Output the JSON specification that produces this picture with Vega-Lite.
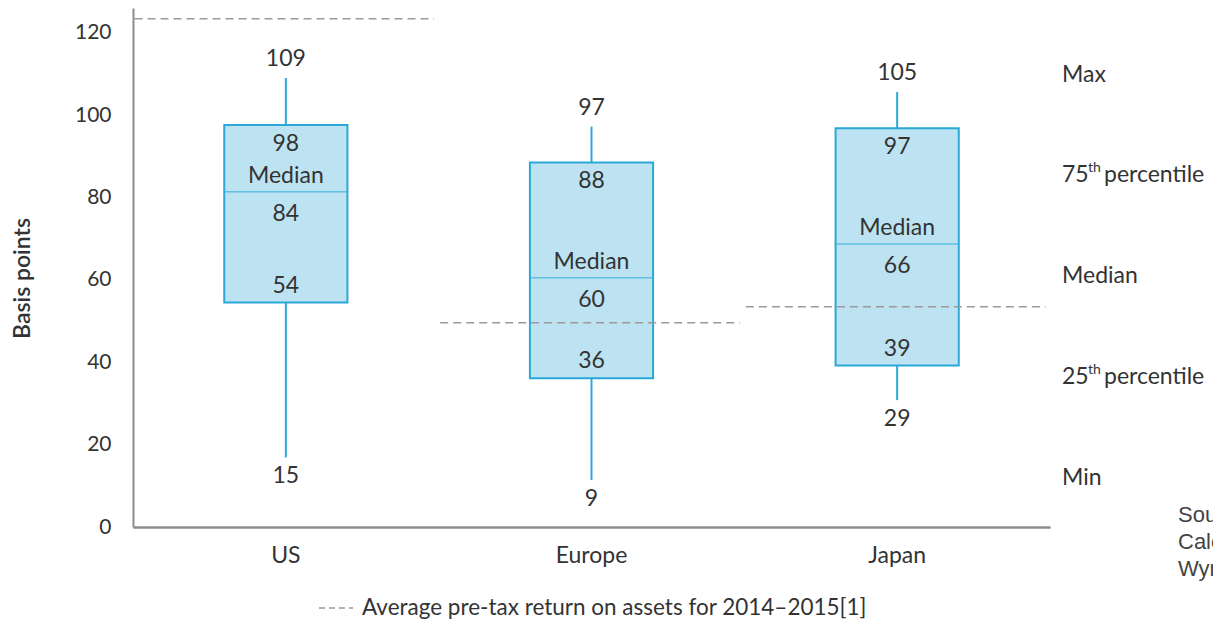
{
  "$schema": "https://vega.github.io/schema/vega-lite/v6.json",
  "autosize": {"type": "none"},
  "width": 917,
  "height": 519,
  "padding": {"left": 133, "top": 8, "right": 163, "bottom": 93},
  "background": "white",
  "config": {
    "view": {"stroke": null},
    "font": "Lato",
    "text": {"font": "Lato", "color": "#333333"}
  },
  "datasets": {
    "stats": [
      {"region": "US", "min": 16.9, "q1": 54.5, "median": 81.4, "q3": 97.6, "max": 109, "avg": 123.4, "lmin": "15", "lq1": "54", "lmed": "84", "lq3": "98", "lmax": "109"},
      {"region": "Europe", "min": 11.4, "q1": 36.1, "median": 60.5, "q3": 88.5, "max": 97.2, "avg": 49.6, "lmin": "9", "lq1": "36", "lmed": "60", "lq3": "88", "lmax": "97"},
      {"region": "Japan", "min": 30.8, "q1": 39.2, "median": 68.7, "q3": 96.8, "max": 105.6, "avg": 53.5, "lmin": "29", "lq1": "39", "lmed": "66", "lq3": "97", "lmax": "105"}
    ],
    "notes": [
      {"t": "Max", "sup": "", "rest": "", "v": 109.7},
      {"t": "75", "sup": "th", "rest": "percentile", "v": 85.5},
      {"t": "Median", "sup": "", "rest": "", "v": 61},
      {"t": "25", "sup": "th", "rest": "percentile", "v": 36.4},
      {"t": "Min", "sup": "", "rest": "", "v": 11.9}
    ],
    "source": [
      {"t": "Source: Oliver Wyman analysis\nCalculations based on company reports\nWyman"}
    ]
  },
  "data": {"name": "stats"},
  "encoding": {
    "x": {
      "field": "region",
      "type": "nominal",
      "sort": ["US", "Europe", "Japan"],
      "scale": {"paddingInner": 0, "paddingOuter": 0},
      "axis": {
        "title": null,
        "labelAngle": 0,
        "labelFontSize": 23,
        "labelColor": "#333333",
        "labelFont": "Lato",
        "labelPadding": 17,
        "ticks": false,
        "domainColor": "#8c8c8c",
        "domainWidth": 2.5
      }
    }
  },
  "layer": [
    {
      "mark": {"type": "rule", "color": "#2aa8d8", "strokeWidth": 2},
      "encoding": {
        "y": {
          "field": "q3",
          "type": "quantitative",
          "scale": {"domain": [0, 126], "nice": false, "zero": true},
          "axis": {
            "values": [0, 20, 40, 60, 80, 100, 120],
            "grid": false,
            "ticks": false,
            "domainColor": "#8c8c8c",
            "domainWidth": 2,
            "labelFontSize": 21,
            "labelColor": "#333333",
            "labelFont": "Lato",
            "labelPadding": 22,
            "title": "Basis points",
            "titleFont": "Lato",
            "titleFontSize": 23,
            "titleFontWeight": 600,
            "titleColor": "#333333",
            "titleX": -99,
            "titleY": 270,
            "titleAlign": "center",
            "titleAngle": -90,
            "titleBaseline": "bottom"
          }
        },
        "y2": {"field": "max"}
      }
    },
    {
      "mark": {"type": "rule", "color": "#2aa8d8", "strokeWidth": 2},
      "encoding": {
        "y": {"field": "min", "type": "quantitative"},
        "y2": {"field": "q1"}
      }
    },
    {
      "mark": {"type": "bar", "fill": "#bde3f2", "stroke": "#2aa8d8", "strokeWidth": 2, "width": {"band": 0.403}},
      "encoding": {
        "y": {"field": "q1", "type": "quantitative"},
        "y2": {"field": "q3"}
      }
    },
    {
      "mark": {"type": "tick", "orient": "horizontal", "color": "#37b0dc", "size": 123, "thickness": 1.5},
      "encoding": {
        "y": {"field": "median", "type": "quantitative"}
      }
    },
    {
      "mark": {"type": "rule", "strokeDash": [8, 5], "strokeWidth": 1.5},
      "encoding": {
        "x": {"field": "region", "type": "nominal", "sort": ["US", "Europe", "Japan"], "bandPosition": 0.005},
        "x2": {"field": "region", "bandPosition": 0.985},
        "y": {"field": "avg", "type": "quantitative"},
        "color": {
          "datum": "Average pre-tax return on assets for 2014–2015[1]",
          "type": "nominal",
          "scale": {"range": ["#9a9a9a"]},
          "legend": {
            "title": null,
            "orient": "none",
            "legendX": 185,
            "legendY": 582,
            "padding": 0,
            "symbolType": "stroke",
            "symbolDash": [6, 4],
            "symbolStrokeWidth": 1.5,
            "symbolStrokeColor": "#9a9a9a",
            "symbolSize": 1156,
            "labelFont": "Lato",
            "labelFontSize": 22.5,
            "labelColor": "#333333",
            "labelOffset": 8,
            "labelLimit": 700
          }
        }
      }
    },
    {
      "mark": {"type": "text", "fontSize": 23, "baseline": "middle", "dy": -19},
      "encoding": {"y": {"field": "max", "type": "quantitative"}, "text": {"field": "lmax"}}
    },
    {
      "mark": {"type": "text", "fontSize": 23, "baseline": "middle", "dy": 19},
      "encoding": {"y": {"field": "q3", "type": "quantitative"}, "text": {"field": "lq3"}}
    },
    {
      "mark": {"type": "text", "fontSize": 23, "baseline": "middle", "dy": -16},
      "encoding": {"y": {"field": "median", "type": "quantitative"}, "text": {"value": "Median"}}
    },
    {
      "mark": {"type": "text", "fontSize": 23, "baseline": "middle", "dy": 22},
      "encoding": {"y": {"field": "median", "type": "quantitative"}, "text": {"field": "lmed"}}
    },
    {
      "mark": {"type": "text", "fontSize": 23, "baseline": "middle", "dy": -17},
      "encoding": {"y": {"field": "q1", "type": "quantitative"}, "text": {"field": "lq1"}}
    },
    {
      "mark": {"type": "text", "fontSize": 23, "baseline": "middle", "dy": 19},
      "encoding": {"y": {"field": "min", "type": "quantitative"}, "text": {"field": "lmin"}}
    },
    {
      "data": {"name": "notes"},
      "mark": {"type": "text", "fontSize": 23, "baseline": "middle", "align": "left", "dx": 12},
      "encoding": {"x": {"value": "width"}, "y": {"field": "v", "type": "quantitative"}, "text": {"field": "t"}}
    },
    {
      "data": {"name": "notes"},
      "mark": {"type": "text", "fontSize": 14, "baseline": "middle", "align": "left", "dx": 38, "dy": -7},
      "encoding": {"x": {"value": "width"}, "y": {"field": "v", "type": "quantitative"}, "text": {"field": "sup"}}
    },
    {
      "data": {"name": "notes"},
      "mark": {"type": "text", "fontSize": 23, "baseline": "middle", "align": "left", "dx": 54},
      "encoding": {"x": {"value": "width"}, "y": {"field": "v", "type": "quantitative"}, "text": {"field": "rest"}}
    },
    {
      "data": {"name": "source"},
      "mark": {"type": "text", "font": "Liberation Sans", "fontSize": 22, "baseline": "top", "align": "left", "dx": 128, "lineBreak": "\n", "lineHeight": 27, "color": "#444444"},
      "encoding": {"x": {"value": "width"}, "y": {"datum": 5.3, "type": "quantitative"}, "text": {"field": "t"}}
    }
  ]
}
